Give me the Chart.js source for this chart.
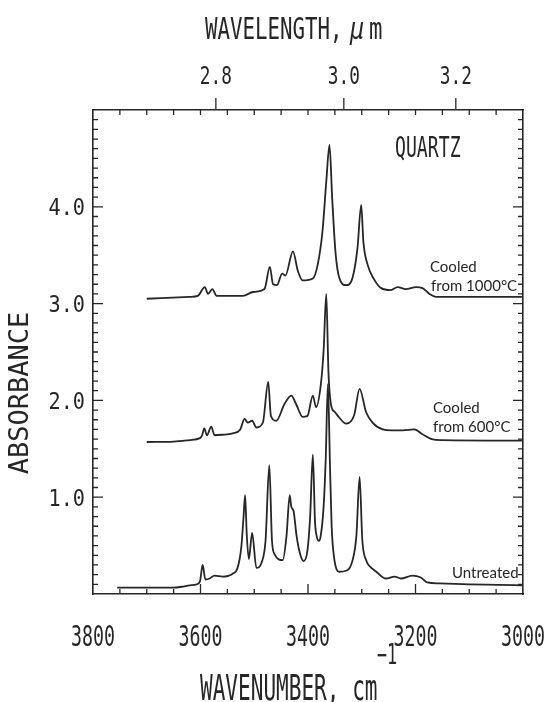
<!DOCTYPE html>
<html>
<head>
<meta charset="utf-8">
<script src="https://cdn.jsdelivr.net/npm/chart.js@4.4.1/dist/chart.umd.min.js"></script>
<style>
html, body { margin: 0; padding: 0; background: #fff; }
canvas { display: block; }
</style>
</head>
<body>
<canvas id="spectra" width="549" height="702"></canvas>
<script>
// quartz OH band, absorbance against wavenumber (cm-1)
const untreatedWn = [3755, 3700, 3652, 3635, 3620, 3607, 3601, 3596, 3591, 3583, 3574, 3559, 3540, 3531, 3524, 3520, 3517, 3514, 3510, 3504, 3496, 3486, 3479, 3472, 3467, 3462, 3447, 3440, 3434, 3431, 3427, 3421, 3414, 3408, 3401, 3396, 3391, 3387, 3384, 3380, 3377, 3371, 3367, 3363, 3359, 3356, 3352, 3342, 3329, 3317, 3310, 3304, 3299, 3292, 3284, 3273, 3255, 3239, 3227, 3206, 3190, 3178, 3156, 3100, 3045, 3002];
const untreatedAbs = [0.065, 0.065, 0.066, 0.075, 0.09, 0.10, 0.13, 0.30, 0.15, 0.16, 0.19, 0.18, 0.21, 0.27, 0.49, 0.79, 1.02, 0.62, 0.36, 0.63, 0.27, 0.33, 0.55, 1.33, 0.55, 0.41, 0.35, 0.60, 1.02, 0.90, 0.86, 0.59, 0.40, 0.34, 0.45, 0.80, 1.44, 0.75, 0.60, 0.55, 0.58, 0.90, 1.40, 2.17, 1.30, 0.70, 0.40, 0.23, 0.24, 0.35, 0.60, 1.21, 0.56, 0.35, 0.28, 0.23, 0.16, 0.18, 0.16, 0.19, 0.17, 0.12, 0.11, 0.10, 0.095, 0.09];

const cooled600Wn = [3700, 3650, 3620, 3601, 3597, 3593, 3588, 3580, 3574, 3560, 3540, 3526, 3518, 3512, 3504, 3496, 3484, 3474, 3469, 3459, 3444, 3431, 3422, 3410, 3401, 3391, 3385, 3376, 3371, 3366, 3362, 3357, 3350, 3343, 3329, 3314, 3304, 3292, 3280, 3261, 3245, 3224, 3202, 3187, 3170, 3150, 3002];
const cooled600Abs = [1.57, 1.575, 1.59, 1.61, 1.64, 1.71, 1.64, 1.73, 1.64, 1.645, 1.66, 1.70, 1.81, 1.77, 1.79, 1.72, 1.77, 2.19, 1.84, 1.79, 1.96, 2.05, 1.96, 1.83, 1.84, 2.05, 1.93, 2.17, 2.51, 3.10, 2.30, 1.95, 1.88, 1.83, 1.76, 1.85, 2.12, 1.88, 1.77, 1.70, 1.69, 1.69, 1.70, 1.65, 1.60, 1.59, 1.585];

const cooled1000Wn = [3700, 3620, 3605, 3592, 3586, 3578, 3570, 3521, 3502, 3481, 3471, 3465, 3458, 3448, 3442, 3428, 3419, 3410, 3391, 3382, 3373, 3366, 3360, 3355, 3349, 3342, 3329, 3317, 3308, 3301, 3297, 3289, 3277, 3264, 3246, 3233, 3218, 3199, 3187, 3174, 3162, 3035, 3002];
const cooled1000Abs = [3.05, 3.07, 3.08, 3.17, 3.10, 3.15, 3.08, 3.08, 3.12, 3.15, 3.38, 3.20, 3.19, 3.31, 3.29, 3.54, 3.34, 3.24, 3.26, 3.40, 3.75, 4.26, 4.64, 4.09, 3.54, 3.27, 3.19, 3.27, 3.57, 4.02, 3.64, 3.40, 3.25, 3.16, 3.14, 3.17, 3.15, 3.17, 3.16, 3.10, 3.07, 3.07, 3.07];

const wavenumberLabels = [3800, 3600, 3400, 3200, 3000];
const wavelengthLabels = [2.8, 3.0, 3.2];
const absorbanceLabels = [1.0, 2.0, 3.0, 4.0];

const ink = '#262626';
const plotFont = '"DejaVu Sans Mono", monospace';
const noteFont = 'Lato, "Open Sans", sans-serif';

function pairs(xs, ys) {
  return xs.map((x, i) => ({ x: x, y: ys[i] }));
}

// plotter-style lettering: a monospace face squeezed horizontally
function narrowText(ctx, text, x, y, size, sx, align, italic) {
  ctx.save();
  ctx.translate(x, y);
  ctx.scale(sx, 1);
  ctx.font = (italic ? 'italic ' : '') + size + 'px ' + plotFont;
  ctx.textAlign = align || 'center';
  ctx.textBaseline = 'alphabetic';
  ctx.fillStyle = ink;
  ctx.fillText(text, 0, 0);
  ctx.restore();
}

function note(ctx, text, x, y) {
  ctx.save();
  ctx.font = '15px ' + noteFont;
  ctx.textAlign = 'left';
  ctx.textBaseline = 'alphabetic';
  ctx.fillStyle = ink;
  ctx.fillText(text, x, y);
  ctx.restore();
}

const frameTicks = {
  id: 'frameTicks',
  afterDraw(chart) {
    const { ctx, chartArea: a, scales } = chart;
    const xs = scales.x, ys = scales.y;
    ctx.save();
    ctx.strokeStyle = ink;
    ctx.lineWidth = 1.3;
    ctx.beginPath();
    // inward ticks every 50 cm-1, top and bottom
    for (let w = 3750; w > 3000; w -= 50) {
      const px = xs.getPixelForValue(w);
      const len = w % 200 === 0 ? 10 : 5;
      ctx.moveTo(px, a.bottom);
      ctx.lineTo(px, a.bottom - len);
      ctx.moveTo(px, a.top);
      ctx.lineTo(px, a.top + 5);
    }
    // inward ticks every 0.1 absorbance, left and right
    for (let k = 1; k < 50; k++) {
      const py = ys.getPixelForValue(k / 10);
      const len = k % 10 === 0 ? 10 : 5;
      ctx.moveTo(a.left, py);
      ctx.lineTo(a.left + len, py);
      ctx.moveTo(a.right, py);
      ctx.lineTo(a.right - len, py);
    }
    // wavelength ticks point outward above the frame
    wavelengthLabels.forEach(l => {
      const px = xs.getPixelForValue(1e4 / l);
      ctx.moveTo(px, a.top);
      ctx.lineTo(px, a.top - 12);
    });
    ctx.stroke();
    ctx.restore();

    wavenumberLabels.forEach(w => {
      narrowText(ctx, String(w), xs.getPixelForValue(w), a.bottom + 52, 29, 0.63);
    });
    wavelengthLabels.forEach(l => {
      narrowText(ctx, l.toFixed(1), xs.getPixelForValue(1e4 / l), a.top - 26, 24, 0.74);
    });
    absorbanceLabels.forEach(v => {
      narrowText(ctx, v.toFixed(1), a.left - 8, ys.getPixelForValue(v) + 8.5, 23.5, 0.86, 'right');
    });

    // axis titles
    narrowText(ctx, 'WAVELENGTH,', 205, 39, 31, 0.67, 'left');
    narrowText(ctx, 'μ', 350, 39, 31, 0.75, 'left', true);
    narrowText(ctx, 'm', 369, 39, 31, 0.72, 'left');
    narrowText(ctx, 'WAVENUMBER, cm', 200, 700, 36, 0.585, 'left');
    narrowText(ctx, '−1', 377, 664, 28, 0.6, 'left');
    ctx.save();
    ctx.translate(28, 393);
    ctx.rotate(-Math.PI / 2);
    narrowText(ctx, 'ABSORBANCE', 0, 0, 27, 1.0, 'center');
    ctx.restore();
    narrowText(ctx, 'QUARTZ', 395, 157, 27.5, 0.66, 'left');

    note(ctx, 'Cooled', 430, 272);
    note(ctx, 'from 1000°C', 431, 291);
    note(ctx, 'Cooled', 433, 413);
    note(ctx, 'from 600°C', 433, 432);
    note(ctx, 'Untreated', 452, 578);
  }
};

const edge = { display: true, color: ink, width: 1.6 };
const hidden = { display: false };

function spectrum(label, wn, abs) {
  return {
    label: label,
    data: pairs(wn, abs),
    showLine: true,
    borderColor: ink,
    borderWidth: 1.8,
    pointRadius: 0,
    cubicInterpolationMode: 'monotone',
    fill: false
  };
}

new Chart(document.getElementById('spectra'), {
  type: 'scatter',
  data: {
    datasets: [
      spectrum('Untreated', untreatedWn, untreatedAbs),
      spectrum('Cooled from 600°C', cooled600Wn, cooled600Abs),
      spectrum('Cooled from 1000°C', cooled1000Wn, cooled1000Abs)
    ]
  },
  options: {
    responsive: false,
    animation: false,
    devicePixelRatio: 1,
    layout: { padding: 0 },
    plugins: { legend: hidden, tooltip: { enabled: false } },
    scales: {
      x: {
        type: 'linear', position: 'bottom', min: 3000, max: 3800, reverse: true,
        ticks: { display: false }, grid: hidden, border: edge,
        afterFit: s => { s.height = 108; }
      },
      top: {
        type: 'linear', position: 'top', min: 3000, max: 3800, reverse: true,
        ticks: { display: false }, grid: hidden, border: edge,
        afterFit: s => { s.height = 110; }
      },
      y: {
        type: 'linear', position: 'left', min: 0, max: 5,
        ticks: { display: false }, grid: hidden, border: edge,
        afterFit: s => { s.width = 93; }
      },
      right: {
        type: 'linear', position: 'right', min: 0, max: 5,
        ticks: { display: false }, grid: hidden, border: edge,
        afterFit: s => { s.width = 26; }
      }
    }
  },
  plugins: [frameTicks]
});
</script>
</body>
</html>
